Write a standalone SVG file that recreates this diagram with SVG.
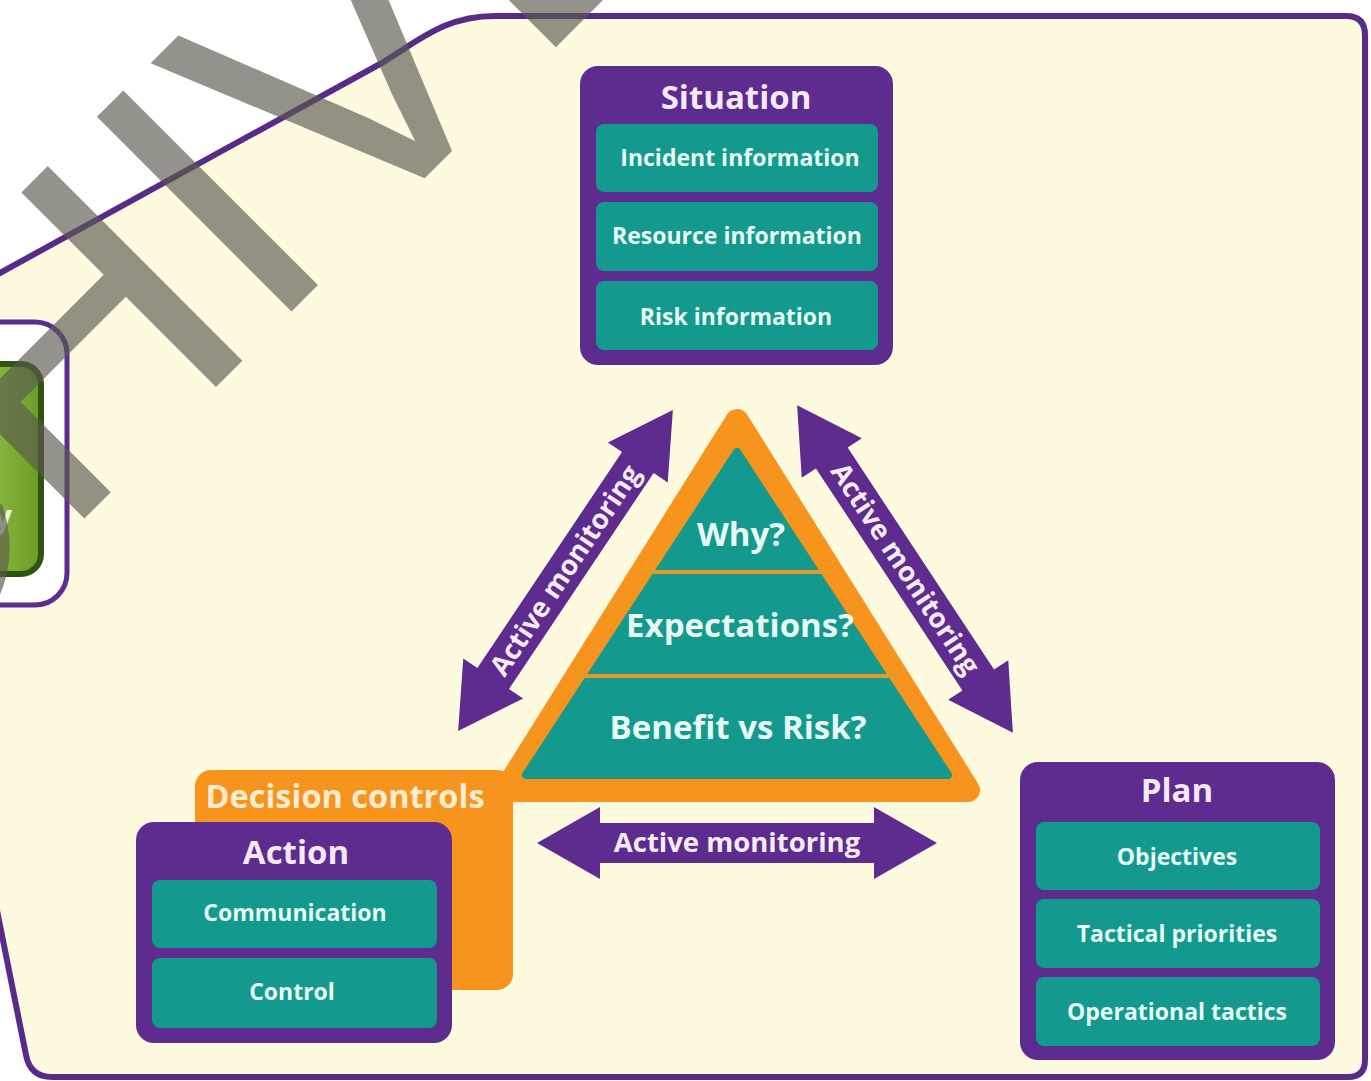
<svg xmlns="http://www.w3.org/2000/svg" width="1371" height="1081" viewBox="0 0 1371 1081">
<defs>
<style>
.box{fill:#5e2b8e}
.cell{fill:#14998e}
.title{font-family:"Open Sans","Liberation Sans",sans-serif;font-weight:700;font-size:33px;fill:#f4e9f6;text-anchor:middle}
.lbl{font-family:"Open Sans","Liberation Sans",sans-serif;font-weight:700;font-size:23px;fill:#e6fbf3;text-anchor:middle}
.tri{font-family:"Open Sans","Liberation Sans",sans-serif;font-weight:700;font-size:33px;fill:#e8f8f2;text-anchor:middle}
.am{font-family:"Open Sans","Liberation Sans",sans-serif;font-weight:700;font-size:27.5px;fill:#f6ecf8;text-anchor:middle}
.arrow{fill:#5e2b8e}
</style>
<linearGradient id="grn" x1="0" y1="0" x2="1" y2="0">
<stop offset="0" stop-color="#a6d152"/>
<stop offset="1" stop-color="#6b9c25"/>
</linearGradient>
</defs>
<rect width="1371" height="1081" fill="#ffffff"/>
<g id="frame">
<path d="M -20,284 L 380,64 C 420,40 445,16 495,16 L 1346,16 Q 1365,16 1365,35 L 1365,1060 Q 1365,1077 1348,1077 L 52,1077 Q 30,1077 26,1055 L -20,826 Z" fill="#fefadf" stroke="#5a2a88" stroke-width="6" stroke-linejoin="round"/>
</g>
<g id="side-box">
<rect x="-40" y="322" width="107" height="283" rx="32" fill="#ffffff" stroke="#5e2b8e" stroke-width="5"/>
<rect x="-50" y="364" width="91" height="210" rx="20" fill="url(#grn)" stroke="#2f5412" stroke-width="6"/>
<text x="12" y="528" text-anchor="end" font-family="Open Sans, Liberation Sans, sans-serif" font-weight="700" font-size="32" fill="#eef5e0">y</text>
</g>
<g id="decision-controls">
<rect x="195" y="770" width="318" height="220" rx="16" fill="#f7941d"/>
<text x="345" y="808" font-family="Open Sans, Liberation Sans, sans-serif" font-weight="700" font-size="32.5" fill="#fdecd0" text-anchor="middle">Decision controls</text>
</g>
<g id="triangle">
<polygon points="737,421 506,790 968,790" fill="#f7941d" stroke="#f7941d" stroke-width="24" stroke-linejoin="round"/>
<polygon points="737,452 526,775 948,775" fill="#14998e" stroke="#14998e" stroke-width="8" stroke-linejoin="round"/>
<line x1="645" y1="572" x2="829" y2="572" stroke="#e39a2a" stroke-width="4"/>
<line x1="576" y1="676" x2="898" y2="676" stroke="#e39a2a" stroke-width="4"/>
<text class="tri" x="741" y="546">Why?</text>
<text class="tri" x="740" y="637">Expectations?</text>
<text class="tri" x="738" y="739">Benefit vs Risk?</text>
</g>
<g id="situation">
<rect class="box" x="580" y="66" width="313" height="299" rx="18"/>
<text class="title" x="736" y="109">Situation</text>
<rect class="cell" x="596" y="124" width="282" height="68" rx="8"/>
<text class="lbl" x="740" y="166">Incident information</text>
<rect class="cell" x="596" y="202" width="282" height="69" rx="8"/>
<text class="lbl" x="737" y="244">Resource information</text>
<rect class="cell" x="596" y="281" width="282" height="69" rx="8"/>
<text class="lbl" x="736" y="325">Risk information</text>
</g>
<g id="action">
<rect class="box" x="136" y="822" width="316" height="221" rx="18"/>
<text class="title" x="296" y="864">Action</text>
<rect class="cell" x="152" y="880" width="285" height="68" rx="8"/>
<text class="lbl" x="295" y="921">Communication</text>
<rect class="cell" x="152" y="958" width="285" height="70" rx="8"/>
<text class="lbl" x="292" y="1000">Control</text>
</g>
<g id="plan">
<rect class="box" x="1020" y="762" width="315" height="298" rx="18"/>
<text class="title" x="1177" y="802">Plan</text>
<rect class="cell" x="1036" y="822" width="284" height="68" rx="8"/>
<text class="lbl" x="1177" y="865">Objectives</text>
<rect class="cell" x="1036" y="899" width="284" height="69" rx="8"/>
<text class="lbl" x="1177" y="942">Tactical priorities</text>
<rect class="cell" x="1036" y="977" width="284" height="69" rx="8"/>
<text class="lbl" x="1177" y="1020">Operational tactics</text>
</g>
<g id="connectors">
<g transform="translate(737,843)">
<path class="arrow" d="M -200,0 L -137,-36 L -137,-20 L 137,-20 L 137,-36 L 200,0 L 137,36 L 137,20 L -137,20 L -137,36 Z"/>
<text class="am" x="0" y="9">Active monitoring</text>
</g>
<g transform="translate(565.5,570.5) rotate(-56.2)">
<path class="arrow" d="M -193,0 L -130,-36 L -130,-19 L 130,-19 L 130,-36 L 193,0 L 130,36 L 130,19 L -130,19 L -130,36 Z"/>
<text class="am" x="0" y="9">Active monitoring</text>
</g>
<g transform="translate(905,569) rotate(56.6)">
<path class="arrow" d="M -196,0 L -133,-36 L -133,-19 L 133,-19 L 133,-36 L 196,0 L 133,36 L 133,19 L -133,19 L -133,36 Z"/>
<text class="am" x="0" y="9">Active monitoring</text>
</g>
</g>
<g id="watermark" opacity="0.65">
<text transform="translate(-536,1139) rotate(-45)" x="0" y="0" font-family="Liberation Sans, Arial, sans-serif" font-size="400" fill="#5a5a50" style="font-kerning:none">ARCHIVED</text>
</g>
</svg>
